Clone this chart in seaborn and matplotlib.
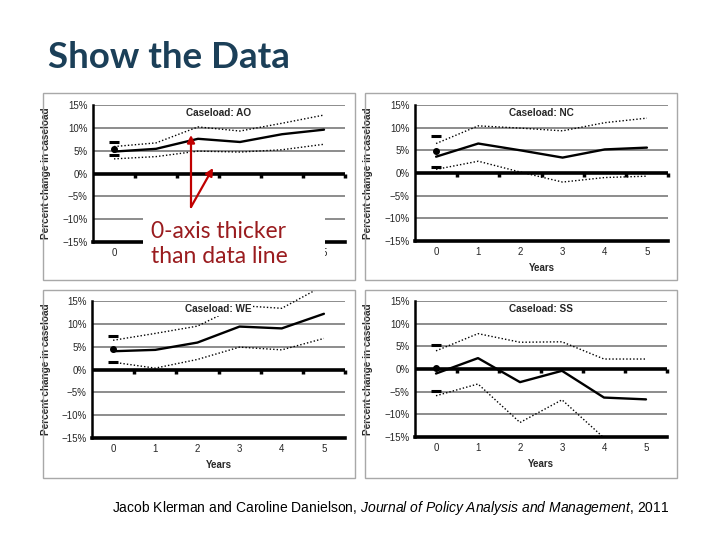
import numpy as np
import pandas as pd
import matplotlib
matplotlib.use('Agg')
import matplotlib.pyplot as plt
import seaborn as sns
from matplotlib.patches import Rectangle, FancyArrowPatch

sns.set_style("white")
plt.rcParams['font.family'] = ['Liberation Sans', 'DejaVu Sans']
plt.rcParams['mathtext.fontset'] = 'custom'
plt.rcParams['mathtext.rm'] = 'Liberation Sans'
plt.rcParams['mathtext.it'] = 'Liberation Sans:italic'

''' DATA (percent change in caseload, read off the slide)
'''
years = [0, 1, 2, 3, 4, 5]
ytick_vals = [-15, -10, -5, 0, 5, 10, 15]
ytick_labels = ['\u221215%', '\u221210%', '\u22125%', '0%', '5%', '10%', '15%']

ao_est = [4.8, 5.4, 7.6, 6.9, 8.6, 9.6]
ao_hi = [5.9, 6.7, 10.2, 9.3, 11.0, 12.8]
ao_lo = [3.2, 3.7, 4.9, 4.7, 5.2, 6.4]
ao_base = [5.4, 7.0, 4.1]   # point, upper, lower at year 0

nc_est = [3.6, 6.5, 5.0, 3.4, 5.2, 5.6]
nc_hi = [6.5, 10.4, 9.9, 9.3, 11.1, 12.1]
nc_lo = [0.8, 2.6, 0.2, -2.0, -1.0, -0.7]
nc_base = [4.8, 8.2, 1.3]

we_est = [4.0, 4.3, 5.9, 9.4, 9.0, 12.2]
we_hi = [6.4, 7.9, 9.5, 14.0, 13.4, 18.4]
we_lo = [1.6, 0.3, 2.2, 4.9, 4.3, 6.8]
we_base = [4.4, 7.4, 1.6]

ss_est = [-1.0, 2.4, -2.9, -0.4, -6.3, -6.7]
ss_hi = [4.0, 7.8, 5.9, 6.0, 2.2, 2.2]
ss_lo = [-5.9, -3.3, -11.8, -6.8, -15.2, -16.5]
ss_base = [0.3, 5.3, -4.9]

W, H = 720, 540
fig = plt.figure(figsize=(7.2, 5.4), dpi=100)

def frac(x0, y0, x1, y1):
    return [x0/W, 1-y1/H, (x1-x0)/W, (y1-y0)/H]

# name, data, panel box (px), axes box (px)
panels = [
    ('AO', ao_est, ao_hi, ao_lo, ao_base, (43, 93, 355, 280), (93, 105, 345, 242)),
    ('NC', nc_est, nc_hi, nc_lo, nc_base, (365, 93, 677, 280), (415, 105, 668, 241)),
    ('WE', we_est, we_hi, we_lo, we_base, (43, 290, 355, 478), (92, 301, 345, 438)),
    ('SS', ss_est, ss_hi, ss_lo, ss_base, (365, 290, 677, 478), (415, 301, 667, 437)),
]

axes = []
for name, est, hi, lo, base, pbox, abox in panels:
    l, b, w, h = frac(*pbox)
    box = Rectangle((l, b), w, h, transform=fig.transFigure, fill=False,
                    edgecolor='#a8a8a8', lw=1.0)
    fig.add_artist(box)

    ax = fig.add_axes(frac(*abox))
    axes.append(ax)
    ax.set_xlim(-0.5, 5.5)
    ax.set_ylim(-15, 15)

    for y in ytick_vals:
        if y not in (-15, 0):
            ax.axhline(y, color='#8c8c8c', lw=1.4, zorder=1)
    ax.axhline(0, color='black', lw=2.6, zorder=1.5)
    # category boundary ticks on the 0-axis
    ax.plot(np.arange(len(years)) + 0.5, np.zeros(len(years)), ls='none', marker=3,
            ms=3, mew=2.5, color='black', clip_on=False, zorder=1.6)

    df = pd.DataFrame({'Years': years, 'est': est, 'hi': hi, 'lo': lo})
    sns.lineplot(data=df, x='Years', y='est', color='black', lw=1.7, ax=ax, zorder=3)
    sns.lineplot(data=df, x='Years', y='hi', color='black', lw=1.0,
                 linestyle=(0, (1, 1.5)), ax=ax, zorder=3)
    line_hi = ax.get_lines()[-1]
    line_hi.set_clip_path(box)
    sns.lineplot(data=df, x='Years', y='lo', color='black', lw=1.0,
                 linestyle=(0, (1, 1.5)), ax=ax, zorder=3)

    ax.plot([years[0]], [base[0]], ls='none', marker='o', ms=4, color='black', zorder=3)
    ax.plot([years[0]] * 2, base[1:], ls='none', marker='_', ms=7, mew=2.2,
            color='black', zorder=3)

    sns.despine(ax=ax)
    ax.spines['left'].set_color('black')
    ax.spines['left'].set_linewidth(1.8)
    ax.spines['bottom'].set_color('black')
    ax.spines['bottom'].set_linewidth(2.6)

    ax.set_yticks(ytick_vals, ytick_labels)
    ax.set_xticks(years)
    ax.tick_params(length=0, labelsize=7, pad=4)
    ax.set_xlabel('Years', fontsize=7, fontweight='bold')
    ax.set_ylabel('Percent change in caseload', fontsize=7.2, fontweight='bold')
    ax_w = abox[2] - abox[0]
    ax_h = abox[3] - abox[1]
    ax.yaxis.set_label_coords(-(abox[0] - pbox[0] - 8) / ax_w, 0.5)
    ax.xaxis.set_label_coords(0.5, -22 / ax_h)
    ax.text(0.5, 0.94, 'Caseload: ' + name, transform=ax.transAxes, ha='center',
            va='center', fontsize=7.2, fontweight='bold', zorder=5,
            bbox=dict(fc='white', ec='none', pad=1))

# first panel: the callout box hides the middle year labels and the axis title
for lab in axes[0].get_xticklabels()[1:-1]:
    lab.set_visible(False)
axes[0].xaxis.label.set_visible(False)

cover = Rectangle((143/W, 1-277/H), 182/W, 72/H, transform=fig.transFigure,
                  facecolor='white', edgecolor='none', zorder=10)
fig.add_artist(cover)
fig.text(151/W, 1-221/H, '0-axis thicker\nthan data line', fontfamily=['Lato', 'DejaVu Sans'],
         fontsize=16.5, color='#9A1C1F', ha='left', va='top', linespacing=1.22, zorder=11)
for tip in [(191, 135), (213, 168)]:
    arr = FancyArrowPatch((191/W, 1-207/H), (tip[0]/W, 1-tip[1]/H), transform=fig.transFigure,
                          arrowstyle='-|>', mutation_scale=11, color='#C00000', lw=1.6,
                          zorder=12, shrinkA=0, shrinkB=0)
    fig.add_artist(arr)

fig.text(48/W, 1-68/H, 'Show the Data', fontfamily=['Lato', 'DejaVu Sans'], fontweight='bold',
         fontsize=26.5, color='#1B3F58', va='baseline', ha='left')
fig.text(112/W, 1-512/H,
         r'Jacob Klerman and Caroline Danielson, $\mathit{Journal\ of\ Policy\ Analysis\ and\ Management}$, 2011',
         fontsize=10, color='black', va='baseline', ha='left')

plt.savefig('out.png', dpi=100)
